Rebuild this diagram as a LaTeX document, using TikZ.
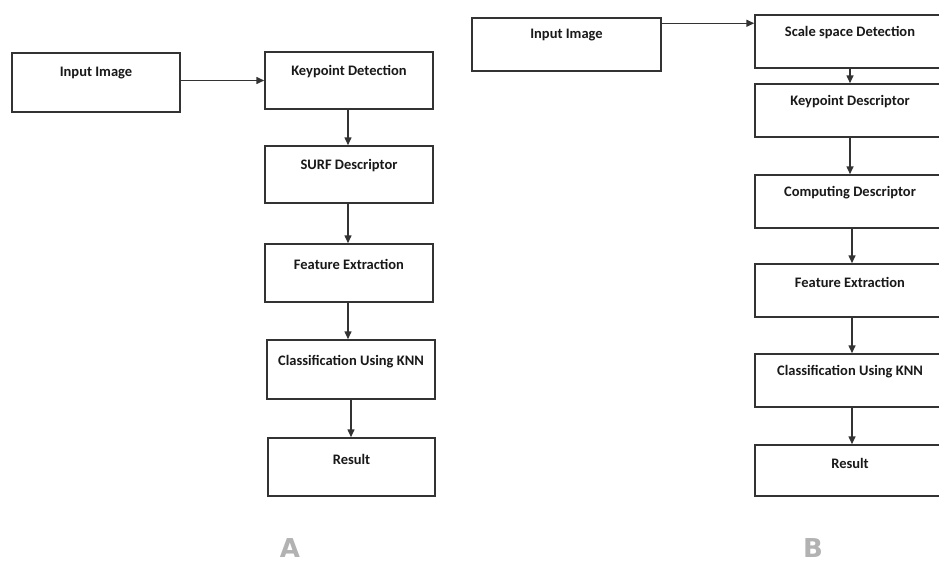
\documentclass[tikz,border=0pt]{standalone}
\usepackage{fontspec}
\setmainfont{Carlito}
\newfontfamily\labfont{DejaVu Sans}
\usetikzlibrary{arrows.meta}
\definecolor{boxline}{HTML}{333333}
\tikzset{
  box/.style={draw=boxline, line width=1.5pt, rectangle, inner sep=0pt, fill=white},
  boxtext/.style={anchor=center, inner sep=0pt, font=\bfseries\fontsize{14.5}{17}\selectfont, text=black!90},
  flow/.style={draw=boxline, line width=1.5pt, -{Triangle[length=8pt,width=7pt]}},
  panel/.style={font=\labfont\bfseries\fontsize{26}{28}\selectfont, text=gray!60, inner sep=0pt}
}
\begin{document}
\begin{tikzpicture}[x=1pt,y=-1pt]
\useasboundingbox (0,0) rectangle (939,565);
\clip (0,0) rectangle (939,565);
% ---- Panel A ----
\node[box, minimum width=168pt, minimum height=59pt] (inA) at (96,82.5) {};
\node[box, minimum width=168pt, minimum height=57pt] (kdA) at (349,80.5) {};
\node[box, minimum width=168pt, minimum height=57pt] (surfA) at (349,174.5) {};
\node[box, minimum width=168pt, minimum height=58pt] (feA) at (349,273) {};
\node[box, minimum width=168pt, minimum height=59pt] (clA) at (351,369.5) {};
\node[box, minimum width=167pt, minimum height=58pt] (resA) at (351.5,467) {};
\node[boxtext] (tinA) at ([yshift=-21pt]inA.north) {Input Image};
\node[boxtext] (tkdA) at ([yshift=-20pt]kdA.north) {Keypoint Detection};
\node[boxtext] (tsurfA) at ([yshift=-20pt]surfA.north) {SURF Descriptor};
\node[boxtext] (tfeA) at ([yshift=-21pt]feA.north) {Feature Extraction};
\node[boxtext] (tclA) at ([yshift=-22pt]clA.north) {Classification Using KNN};
\node[boxtext] (tresA) at ([yshift=-22pt]resA.north) {Result};
\draw[flow] (kdA.west -| inA.east) -- (kdA.west);
\draw[flow] ([xshift=-1pt]kdA.south) -- ([xshift=-1pt]kdA.south |- surfA.north);
\draw[flow] ([xshift=-1pt]surfA.south) -- ([xshift=-1pt]surfA.south |- feA.north);
\draw[flow] ([xshift=-1pt]feA.south) -- ([xshift=-1pt]feA.south |- clA.north);
\draw[flow] (clA.south) -- (clA.south |- resA.north);
\node[panel] (labA) at (290,548) {A};
% ---- Panel B ----
\node[box, minimum width=189pt, minimum height=53pt] (inB) at (566.5,44.5) {};
\node[box, minimum width=190pt, minimum height=53pt] (ssB) at (850,41.5) {};
\node[box, minimum width=190pt, minimum height=53pt] (kpB) at (850,110.5) {};
\node[box, minimum width=190pt, minimum height=53pt] (cdB) at (850,201.5) {};
\node[box, minimum width=190pt, minimum height=53pt] (feB) at (850,290.5) {};
\node[box, minimum width=190pt, minimum height=53pt] (clB) at (850,380.5) {};
\node[box, minimum width=190pt, minimum height=51pt] (resB) at (850,470.5) {};
\node[boxtext] (tinB) at ([yshift=-18pt]inB.north) {Input Image};
\node[boxtext] (tssB) at ([yshift=-18pt]ssB.north) {Scale space Detection};
\node[boxtext] (tkpB) at ([yshift=-18pt]kpB.north) {Keypoint Descriptor};
\node[boxtext] (tcdB) at ([yshift=-18pt]cdB.north) {Computing Descriptor};
\node[boxtext] (tfeB) at ([yshift=-19pt]feB.north) {Feature Extraction};
\node[boxtext] (tclB) at ([yshift=-18pt]clB.north) {Classification Using KNN};
\node[boxtext] (tresB) at ([yshift=-19pt]resB.north) {Result};
\draw[flow] ([yshift=-6pt]inB.north east) -- ([yshift=-6pt]inB.north east -| ssB.west);
\draw[flow] (ssB.south) -- (kpB.north);
\draw[flow] (kpB.south) -- (cdB.north);
\draw[flow] ([xshift=2pt]cdB.south) -- ([xshift=2pt]feB.north);
\draw[flow] ([xshift=2pt]feB.south) -- ([xshift=2pt]clB.north);
\draw[flow] ([xshift=2pt]clB.south) -- ([xshift=2pt]resB.north);
\node[panel] (labB) at (813,548) {B};
\end{tikzpicture}
\end{document}
